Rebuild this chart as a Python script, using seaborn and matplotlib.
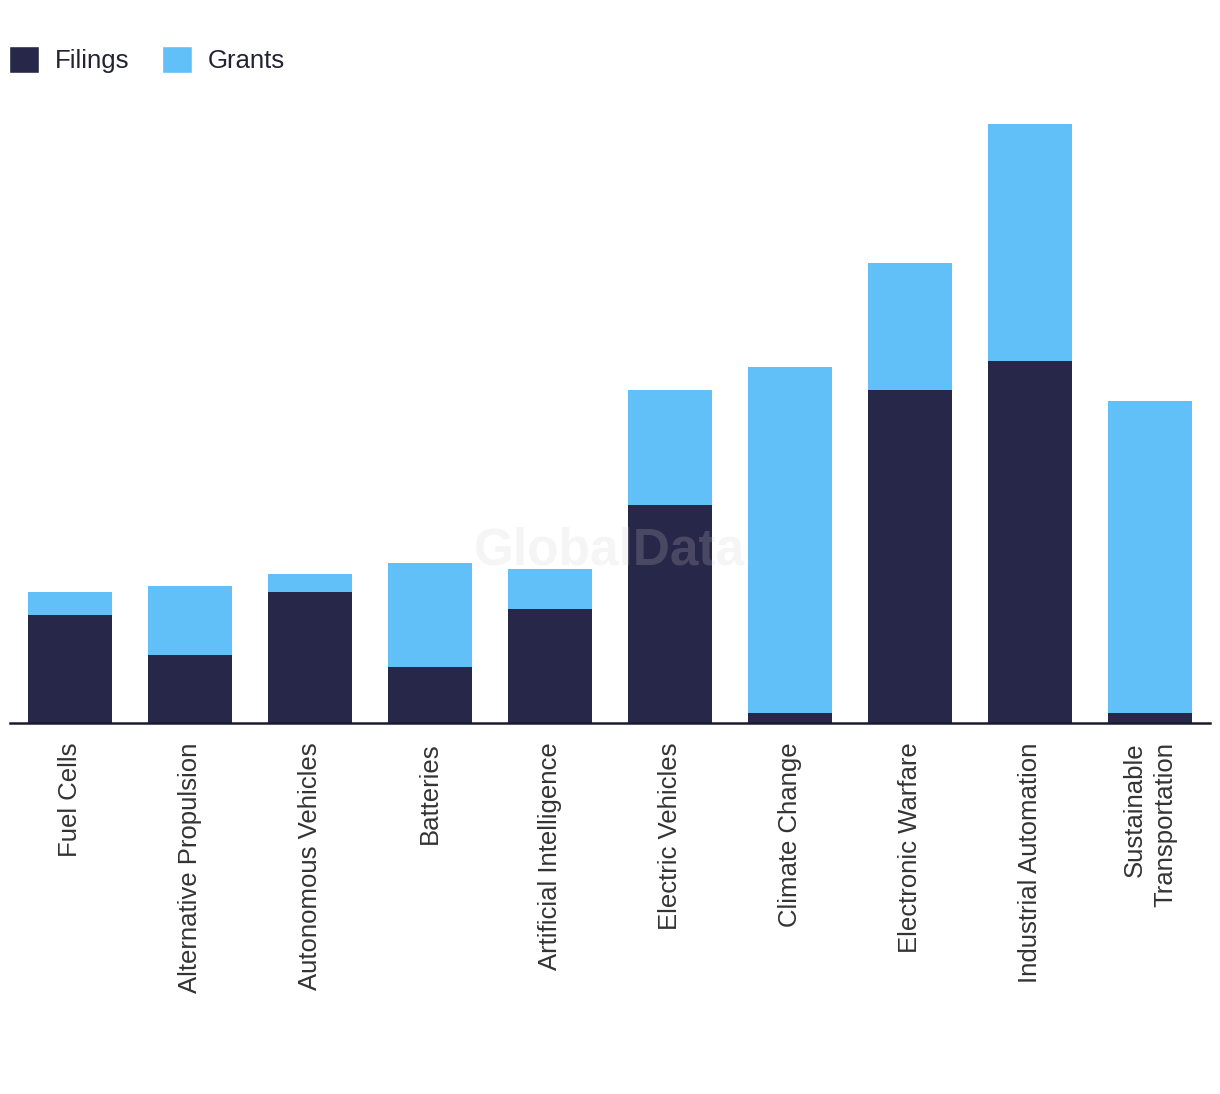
import pandas as pd
import numpy as np
import matplotlib.pyplot as plt
import seaborn as sns
from matplotlib.patches import Patch

categories = ['Fuel Cells', 'Alternative Propulsion', 'Autonomous Vehicles',
              'Batteries', 'Artificial Intelligence', 'Electric Vehicles',
              'Climate Change', 'Electronic Warfare', 'Industrial Automation',
              'Sustainable\nTransportation']
filings = [108, 68, 131, 56, 114, 218, 10, 333, 362, 10]
grants = [23, 69, 18, 104, 40, 115, 346, 127, 237, 312]

navy = '#272849'
blue = '#62c0f8'

sns.set_theme(style='white')
plt.rcParams['font.family'] = ['Liberation Sans', 'DejaVu Sans']

df = pd.DataFrame({'category': categories,
                   'filings': filings,
                   'total': np.array(filings) + np.array(grants)})

fig = plt.figure(figsize=(12.2, 10.94), dpi=100)
ax = fig.add_axes([10 / 1220, (1094 - 723) / 1094, 1200 / 1220, 613 / 1094])

# stacked: totals in light blue, filings drawn over them
sns.barplot(data=df, x='category', y='total', color=blue, width=0.7,
            saturation=1, linewidth=0, ax=ax)
sns.barplot(data=df, x='category', y='filings', color=navy, width=0.7,
            saturation=1, linewidth=0, ax=ax)

ax.set_xlim(-0.5, 9.5)
ax.set_ylim(0, 613)
ax.set_xlabel('')
ax.set_ylabel('')
ax.set_yticks([])
for s in ['top', 'right', 'left']:
    ax.spines[s].set_visible(False)
ax.spines['bottom'].set_color('#1a1a2e')
ax.spines['bottom'].set_linewidth(1.8)
ax.tick_params(axis='x', length=0, pad=14)
ax.set_xticks(range(len(categories)))
ax.set_xticklabels(categories, rotation=90, fontsize=18.5, color='#333333',
                   ha='center', va='top', multialignment='right',
                   linespacing=1.35)

ax.text(0.5, 0.28, 'GlobalData', transform=ax.transAxes, ha='center',
        va='center', fontsize=37, fontweight='bold', color='#cdcdcd',
        alpha=0.2, zorder=10)

handles = [Patch(facecolor=navy, label='Filings'),
           Patch(facecolor=blue, label='Grants')]
fig.legend(handles=handles, loc='upper left', bbox_to_anchor=(-0.007, 0.974),
           ncol=2, frameon=False, fontsize=18.5, handlelength=1.15,
           handleheight=1.2, handletextpad=0.6, columnspacing=1.3,
           labelcolor='#222233', borderaxespad=0.3)

fig.savefig('out.png', dpi=100)
